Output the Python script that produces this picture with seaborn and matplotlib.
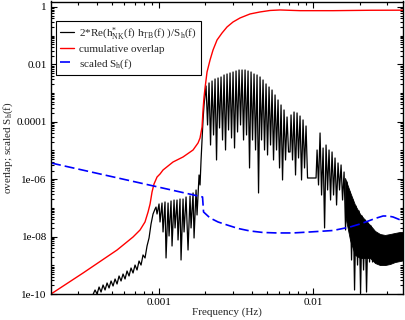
import matplotlib
matplotlib.use("Agg")
import matplotlib.pyplot as plt
import numpy as np
import pandas as pd
import seaborn as sns
from matplotlib.ticker import FixedLocator, FixedFormatter, LogLocator, NullFormatter

# ---------------- data ----------------
# cumulative overlap (red)
cum_freq = [2.01e-4, 3.24e-4, 5.375e-4, 6.82e-4, 7.57e-4, 8.15e-4, 8.53e-4, 8.79e-4, 9.05e-4, 9.32e-4,
            9.75e-4, 1.0195e-3, 1.066e-3, 1.237e-3, 1.436e-3, 1.667e-3, 1.796e-3, 1.850e-3, 1.906e-3,
            1.934e-3, 1.963e-3, 1.993e-3, 2.053e-3, 2.147e-3, 2.245e-3, 2.383e-3, 2.567e-3, 2.765e-3,
            3.024e-3, 3.356e-3, 3.894e-3, 4.521e-3, 5.248e-3, 6.089e-3, 8.201e-3, 1.341e-2, 2.326e-2, 3.917e-2]
cum_val = [1.0e-10, 5.39e-10, 3.41e-9, 9.68e-9, 1.70e-8, 3.23e-8, 7.20e-8, 1.37e-7, 3.58e-7, 6.80e-7,
           1.19e-6, 1.52e-6, 2.09e-6, 3.97e-6, 5.94e-6, 1.04e-5, 1.83e-5, 2.73e-5, 6.59e-5,
           2.58e-4, 7.31e-4, 1.51e-3, 5.43e-3, 1.42e-2, 3.18e-2, 7.08e-2, 0.124, 0.201,
           0.300, 0.414, 0.570, 0.670, 0.755, 0.786, 0.743, 0.743, 0.767, 0.773]

# scaled S_h(f) (blue dashed)
sh_freq = [2.01e-4, 1.920e-3, 1.949e-3, 2.147e-3, 2.419e-3, 2.765e-3, 3.258e-3, 3.894e-3, 4.727e-3,
           5.824e-3, 7.389e-3, 9.52e-3, 1.341e-2, 1.727e-2, 2.005e-2, 2.225e-2, 2.506e-2, 2.824e-2,
           3.041e-2, 3.277e-2, 3.530e-2, 3.917e-2]
sh_val = [3.67e-6, 2.40e-7, 7.20e-8, 4.45e-8, 3.23e-8, 2.54e-8, 1.92e-8, 1.57e-8, 1.39e-8,
          1.34e-8, 1.34e-8, 1.45e-8, 1.63e-8, 2.16e-8, 2.75e-8, 3.36e-8, 4.27e-8, 5.22e-8,
          5.22e-8, 4.82e-8, 4.10e-8, 3.23e-8]

# integrand 2*Re(h*_NK h_TB)/S_h (black), low-frequency rise
integ_low_freq = [3.70e-4, 3.873e-4, 3.991e-4, 4.112e-4, 4.236e-4, 4.364e-4, 4.496e-4, 4.632e-4, 4.772e-4,
                  4.916e-4, 5.065e-4, 5.218e-4, 5.375e-4, 5.538e-4, 5.705e-4, 5.877e-4, 6.055e-4, 6.237e-4,
                  6.426e-4, 6.620e-4, 6.820e-4, 7.026e-4, 7.239e-4, 7.457e-4, 7.683e-4, 7.915e-4, 8.154e-4,
                  8.400e-4, 8.655e-4, 8.916e-4, 9.186e-4, 9.464e-4, 9.605e-4]
integ_low_val = [7.9e-11, 1.38e-10, 1.0e-10, 1.75e-10, 1.17e-10, 2.06e-10, 1.38e-10, 2.42e-10, 1.62e-10,
                 2.84e-10, 1.90e-10, 3.33e-10, 2.23e-10, 4.24e-10, 2.84e-10, 4.97e-10, 3.33e-10, 6.33e-10,
                 4.24e-10, 8.05e-10, 5.39e-10, 1.02e-9, 6.86e-10, 1.41e-9, 1.02e-9, 2.29e-9, 1.80e-9,
                 4.70e-9, 8.93e-9, 2.75e-8, 6.12e-8, 9.16e-8, 1.07e-7]

# plateau 1e-3 .. 2e-3 Hz
integ_mid_freq = [9.75e-4, 1.0045e-3, 1.0195e-3, 1.050e-3, 1.066e-3, 1.098e-3, 1.115e-3, 1.149e-3, 1.166e-3,
                  1.201e-3, 1.219e-3, 1.256e-3, 1.275e-3, 1.313e-3, 1.333e-3, 1.373e-3, 1.394e-3, 1.436e-3,
                  1.458e-3, 1.502e-3, 1.547e-3, 1.594e-3, 1.618e-3, 1.667e-3, 1.692e-3, 1.743e-3, 1.769e-3,
                  1.823e-3, 1.850e-3, 1.878e-3, 1.906e-3, 1.934e-3, 1.963e-3, 1.993e-3]
integ_mid_val = [6.12e-8, 1.37e-7, 3.23e-8, 1.48e-7, 1.45e-8, 1.61e-7, 1.80e-9, 1.48e-7, 1.05e-8,
                 1.74e-7, 4.70e-9, 1.88e-7, 2.00e-8, 1.88e-7, 7.62e-9, 2.04e-7, 1.53e-9, 2.04e-7,
                 1.45e-8, 2.40e-7, 3.41e-9, 2.60e-7, 2.00e-8, 3.31e-7, 8.93e-9, 4.21e-7, 5.66e-8,
                 1.40e-6, 6.28e-7, 4.67e-6, 2.32e-5, 1.16e-4, 3.85e-4, 8.59e-4]

# main oscillating lobe 2e-3 .. 7e-3 Hz
integ_peak_freq = [2.023e-3, 2.069e-3, 2.115e-3, 2.163e-3, 2.212e-3, 2.262e-3, 2.313e-3, 2.365e-3, 2.419e-3,
                   2.473e-3, 2.529e-3, 2.586e-3, 2.645e-3, 2.704e-3, 2.765e-3, 2.828e-3, 2.892e-3, 2.957e-3,
                   3.024e-3, 3.092e-3, 3.162e-3, 3.234e-3, 3.307e-3, 3.381e-3, 3.458e-3, 3.536e-3, 3.616e-3,
                   3.697e-3, 3.781e-3, 3.866e-3, 3.954e-3, 4.043e-3, 4.134e-3, 4.228e-3, 4.323e-3, 4.421e-3,
                   4.521e-3, 4.623e-3, 4.727e-3, 4.834e-3, 4.943e-3, 5.055e-3, 5.169e-3, 5.286e-3, 5.405e-3,
                   5.527e-3, 5.652e-3, 5.780e-3, 5.910e-3, 6.044e-3, 6.180e-3, 6.320e-3, 6.462e-3, 6.608e-3,
                   6.758e-3, 6.910e-3, 7.066e-3]
integ_peak_val = [1.77e-3, 7.74e-5, 2.25e-3, 1.55e-5, 2.64e-3, 3.47e-5, 3.10e-3, 4.67e-6, 3.36e-3,
                  6.08e-5, 3.64e-3, 2.32e-5, 4.27e-3, 1.04e-5, 4.63e-3, 5.18e-5, 5.02e-3, 2.73e-5,
                  5.43e-3, 1.22e-5, 5.89e-3, 4.41e-5, 6.38e-3, 7.74e-5, 6.38e-3, 2.32e-5, 6.38e-3,
                  3.47e-5, 5.89e-3, 2.46e-6, 5.43e-3, 2.32e-5, 4.63e-3, 1.04e-5, 4.27e-3, 3.31e-7,
                  3.64e-3, 2.32e-5, 2.86e-3, 1.04e-5, 2.08e-3, 6.97e-6, 1.63e-3, 1.55e-5, 1.28e-3,
                  4.67e-6, 8.59e-4, 1.04e-5, 5.75e-4, 2.46e-6, 3.85e-4, 9.38e-7, 2.58e-4, 4.67e-6,
                  1.47e-4, 8.87e-6, 8.87e-6]

# secondary lobes and decay 7e-3 .. 2.4e-2 Hz
integ_tail_freq = [7.172e-3, 7.334e-3, 7.500e-3, 7.669e-3, 7.843e-3, 8.020e-3, 8.201e-3, 8.386e-3, 8.576e-3,
                   8.770e-3, 8.968e-3, 9.171e-3, 1.041e-2, 1.057e-2, 1.080e-2, 1.105e-2, 1.130e-2, 1.156e-2,
                   1.182e-2, 1.208e-2, 1.236e-2, 1.263e-2, 1.292e-2, 1.321e-2, 1.351e-2, 1.381e-2, 1.413e-2,
                   1.444e-2, 1.477e-2, 1.511e-2, 1.545e-2, 1.580e-2, 1.615e-2, 1.652e-2, 1.689e-2, 1.727e-2,
                   1.766e-2, 1.806e-2, 1.847e-2, 1.888e-2, 1.931e-2, 1.975e-2, 2.020e-2, 2.065e-2, 2.112e-2,
                   2.160e-2, 2.208e-2, 2.258e-2, 2.309e-2, 2.361e-2, 2.415e-2]
integ_tail_val = [1.73e-4, 4.67e-6, 2.19e-4, 1.40e-6, 2.03e-4, 5.48e-6, 1.59e-4, 9.38e-7, 1.16e-4,
                  2.46e-6, 7.14e-5, 1.10e-6, 1.10e-6, 1.04e-5, 6.28e-7, 4.07e-5, 2.81e-7, 1.22e-5,
                  2.00e-8, 1.55e-5, 4.21e-7, 1.04e-5, 1.88e-7, 8.87e-6, 2.81e-7, 5.48e-6, 1.26e-7,
                  3.67e-6, 4.21e-7, 3.13e-6, 1.88e-7, 1.78e-6, 1.70e-8, 7.99e-7, 5.66e-8, 3.58e-7,
                  1.53e-9, 1.88e-7, 1.38e-10, 1.16e-7, 1.02e-9, 7.80e-8, 1.08e-10, 5.22e-8, 6.86e-10,
                  3.79e-8, 1.17e-10, 2.98e-8, 1.30e-9, 2.34e-8, 1.30e-9]

# envelope of the densely oscillating high-frequency band
band_freq = [1.603e-2, 1.727e-2, 1.861e-2, 2.005e-2, 2.160e-2, 2.326e-2, 2.506e-2, 2.699e-2, 2.908e-2,
             3.133e-2, 3.375e-2, 3.636e-2, 3.917e-2]
band_upper = [1.10e-6, 3.58e-7, 1.26e-7, 6.12e-8, 3.79e-8, 2.54e-8, 1.57e-8, 1.23e-8, 1.14e-8,
              1.23e-8, 1.34e-8, 1.45e-8, 1.45e-8]
band_lower = [5.66e-8, 7.62e-9, 2.29e-9, 1.80e-9, 1.80e-9, 1.80e-9, 1.20e-9, 1.02e-9, 1.02e-9,
              1.11e-9, 1.30e-9, 1.41e-9, 1.53e-9]

xtick_vals = [1e-3, 1e-2]
xtick_labels = ["0.001", "0.01"]
ytick_vals = [1e-10, 1e-8, 1e-6, 1e-4, 1e-2, 1.0]
ytick_labels = ["1e-10", "1e-08", "1e-06", "0.0001", "0.01", "1"]

label_integ = r"2*Re(h$^{*}_{\mathrm{NK}}$(f) h$_{\mathrm{TB}}$(f) )/S$_{\mathrm{h}}$(f)"
label_cum = "cumulative overlap"
label_sh = r"scaled S$_{\mathrm{h}}$(f)"

# ---------------- plotting ----------------
sns.set_theme(style="ticks")
plt.rcParams.update({
    "font.family": ["Liberation Serif", "DejaVu Serif"],
    "mathtext.fontset": "custom",
    "mathtext.rm": "Liberation Serif",
    "mathtext.it": "Liberation Serif:italic",
    "mathtext.bf": "Liberation Serif:bold",
    "font.size": 8,
    "axes.edgecolor": "black",
    "axes.linewidth": 1.0,
})

integ_df = pd.DataFrame({
    "freq": integ_low_freq + integ_mid_freq + integ_peak_freq + integ_tail_freq,
    "val": integ_low_val + integ_mid_val + integ_peak_val + integ_tail_val,
})
cum_df = pd.DataFrame({"freq": cum_freq, "val": cum_val})
sh_df = pd.DataFrame({"freq": sh_freq, "val": sh_val})

fig = plt.figure(figsize=(4.06, 3.2), dpi=100)
ax = fig.add_axes([51 / 406, 1 - 294 / 320, 352 / 406, 292.5 / 320])
ax.set_xscale("log")
ax.set_yscale("log")

sns.lineplot(data=integ_df, x="freq", y="val", ax=ax, color="black", lw=0.9,
             estimator=None, sort=False, label=label_integ)
ax.fill_between(band_freq, band_lower, band_upper, color="black", lw=0.6)
sns.lineplot(data=cum_df, x="freq", y="val", ax=ax, color="#ff0000", lw=1.0,
             estimator=None, sort=False, label=label_cum)
sns.lineplot(data=sh_df, x="freq", y="val", ax=ax, color="#0000ff", lw=1.2,
             estimator=None, sort=False, label=label_sh, linestyle=(0, (6, 2.4)))

ax.set_xlim(2.01e-4, 3.80e-2)
ax.set_ylim(1e-10, 1.55)

ax.xaxis.set_major_locator(FixedLocator(xtick_vals))
ax.xaxis.set_major_formatter(FixedFormatter(xtick_labels))
ax.xaxis.set_minor_locator(LogLocator(base=10, subs=np.arange(2, 10) * 1.0, numticks=50))
ax.xaxis.set_minor_formatter(NullFormatter())
ax.yaxis.set_major_locator(FixedLocator(ytick_vals))
ax.yaxis.set_major_formatter(FixedFormatter(ytick_labels))
ax.yaxis.set_minor_locator(LogLocator(base=10, subs=np.arange(1, 10) * 1.0, numticks=60))
ax.yaxis.set_minor_formatter(NullFormatter())

ax.tick_params(which="both", direction="in", top=True, right=True, colors="black",
               labelsize=8, width=0.8)
ax.tick_params(which="major", length=4, pad=3)
ax.tick_params(which="minor", length=2.2)
for s in ax.spines.values():
    s.set_visible(True)
    s.set_color("black")
    s.set_linewidth(1.0)

ax.set_xlabel("Frequency (Hz)", fontsize=8)
ax.set_ylabel(label_sh.replace("scaled", "overlap; scaled"), fontsize=8)
ax.xaxis.set_label_coords(0.5, -0.046)
ax.yaxis.set_label_coords(-0.102, 0.5)

leg = ax.legend(loc="upper left", bbox_to_anchor=(0.0142, 0.9333), borderaxespad=0,
                fontsize=8, frameon=True, fancybox=False, framealpha=1, shadow=False,
                handlelength=1.3, handletextpad=0.45, labelspacing=0.25, borderpad=0.35)
leg.get_frame().set_edgecolor("black")
leg.get_frame().set_linewidth(0.8)

fig.savefig("out.png", dpi=100)
